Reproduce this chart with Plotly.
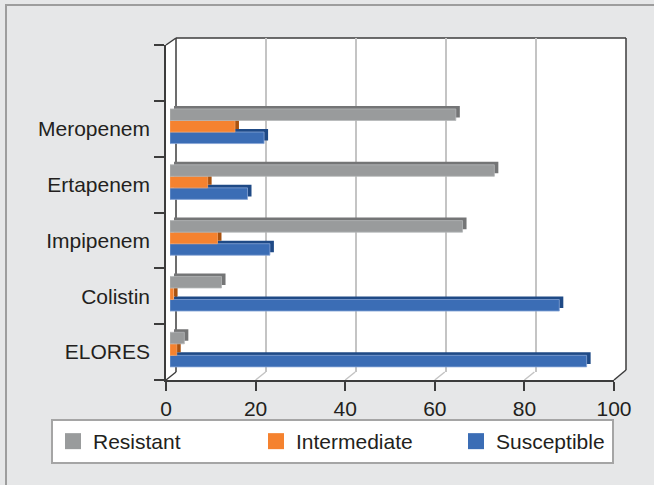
import plotly.graph_objects as go

# ---------------- data ----------------
categories = ["ELORES", "Colistin", "Impipenem", "Ertapenem", "Meropenem"]
resistant = [3.2, 11.5, 65.3, 72.4, 63.8]
intermediate = [1.5, 0.8, 10.6, 8.4, 14.5]
susceptible = [93.0, 86.9, 22.3, 17.3, 21.0]
series_names = ["Resistant", "Intermediate", "Susceptible"]
x_ticks = [0, 20, 40, 60, 80, 100]
grid_ticks = [20, 40, 60, 80]

values = {"Resistant": resistant, "Intermediate": intermediate, "Susceptible": susceptible}
front_col = {"Resistant": "#999b9c", "Intermediate": "#f5822f", "Susceptible": "#3b6db5"}
edge_col = {"Resistant": "#b4b6b7", "Intermediate": "#f7a264", "Susceptible": "#86a5d6"}
side_col = {"Resistant": "#747576", "Intermediate": "#a9520f", "Susceptible": "#1f4a86"}
draw_order = ["Susceptible", "Intermediate", "Resistant"]

W, H = 654, 485
FONT = "Liberation Sans, Arial, sans-serif"
TXT = "#231f20"
DARK = "#3c3c3c"


def fx(px):
    return px / W


def fy(px):
    return 1 - px / H


fig = go.Figure()

# back-wall grid holder
fig.add_trace(go.Scatter(x=[None], y=[None], xaxis="x", yaxis="y",
                         showlegend=False, hoverinfo="skip"))
# 3D depth faces (drawn first, shifted up/right)
for name in draw_order:
    fig.add_trace(go.Bar(y=categories, x=values[name], orientation="h",
                         xaxis="x2", yaxis="y2", marker_color=side_col[name],
                         marker_line_width=0, showlegend=False, hoverinfo="skip"))
# front faces
for name in draw_order:
    fig.add_trace(go.Bar(y=categories, x=values[name], orientation="h",
                         xaxis="x3", yaxis="y3", marker_color=front_col[name],
                         marker_line=dict(width=0.8, color=edge_col[name]),
                         name=name, showlegend=False))
# legend entries
legend_widths = {"Resistant": 158, "Intermediate": 155, "Susceptible": 111}
for i, name in enumerate(series_names):
    fig.add_trace(go.Scatter(x=[None], y=[None], mode="markers", name=name,
                             marker=dict(symbol="square", size=16, color=front_col[name]),
                             xaxis="x4", yaxis="y4", legendrank=i + 1,
                             legendwidth=legend_widths[name]))
# category holder for front axis
fig.add_trace(go.Scatter(x=[None] * 6, y=categories + [" "], mode="markers",
                         xaxis="x4", yaxis="y4", showlegend=False, hoverinfo="skip"))

shapes = []
# outer frame
shapes.append(dict(type="rect", xref="paper", yref="paper", x0=fx(6), x1=fx(W + 10),
                   y0=fy(H + 10), y1=fy(5), line=dict(color="#9d9d9d", width=2),
                   fillcolor="rgba(0,0,0,0)", layer="below"))
# white 3D box
pts = [(166, 45), (176, 38), (626, 38), (626, 370), (614, 380), (166, 380)]
path = "M " + " L ".join(f"{fx(a):.5f},{fy(b):.5f}" for a, b in pts) + " Z"
shapes.append(dict(type="path", xref="paper", yref="paper", path=path,
                   fillcolor="white", line=dict(width=0), layer="below"))
# floor grid diagonals
for v in grid_ticks:
    shapes.append(dict(type="line", xref="x4", xsizemode="pixel", xanchor=v,
                       x0=0, x1=10, yref="paper", y0=fy(380), y1=fy(372),
                       line=dict(color="#c4c4c4", width=1.5), layer="below"))
# dark box edges
edges = [((166, 45), (176, 38)), ((176, 38), (626, 38)), ((626, 38), (626, 370)),
         ((626, 370), (614, 380)), ((166, 380), (176, 372)), ((176, 38), (176, 372))]
for (a, b), (c, d) in edges:
    shapes.append(dict(type="line", xref="paper", yref="paper", x0=fx(a), y0=fy(b),
                       x1=fx(c), y1=fy(d), line=dict(color=DARK, width=1.5), layer="below"))

hidden = dict(visible=False, showgrid=False, zeroline=False)

fig.update_layout(
    width=W, height=H, autosize=False,
    margin=dict(l=0, r=0, t=0, b=0, pad=0),
    paper_bgcolor="#e6e7e8", plot_bgcolor="rgba(0,0,0,0)",
    barmode="group", bargap=0.38, bargroupgap=0,
    font=dict(family=FONT, size=21, color=TXT),
    shapes=shapes,
    showlegend=True,
    legend=dict(orientation="h", x=fx(51), xanchor="left", y=fy(419), yanchor="top",
                bgcolor="white", bordercolor="#a5a5a5", borderwidth=2,
                font=dict(family=FONT, size=21, color=TXT), itemwidth=30),
    xaxis=dict(domain=[fx(176), fx(626)], range=[0, 100], anchor="y",
               tickmode="array", tickvals=grid_ticks, showgrid=True,
               gridcolor="#c4c4c4", gridwidth=1.5, showticklabels=False,
               ticks="", zeroline=False, showline=False),
    yaxis=dict(domain=[fy(372), fy(38)], range=[0, 1], anchor="x", **hidden),
    xaxis2=dict(domain=[fx(174), fx(622)], range=[0, 100], anchor="y2", **hidden),
    yaxis2=dict(domain=[fy(374.5), fy(39.5)], range=[-0.5, 5.5], anchor="x2",
                type="category", categoryorder="array", categoryarray=categories, **hidden),
    xaxis3=dict(domain=[fx(170), fx(618)], range=[0, 100], anchor="y3", **hidden),
    yaxis3=dict(domain=[fy(377.5), fy(42.5)], range=[-0.5, 5.5], anchor="x3",
                type="category", categoryorder="array", categoryarray=categories, **hidden),
    xaxis4=dict(domain=[fx(166), fx(614)], range=[0, 100], anchor="y4",
                tickmode="array", tickvals=x_ticks, ticks="outside", ticklen=9,
                tickwidth=1.5, tickcolor=DARK, showline=True, linecolor=DARK,
                linewidth=1.5, showgrid=False, zeroline=False, automargin=False,
                tickfont=dict(family=FONT, size=21, color=TXT)),
    yaxis4=dict(domain=[fy(380), fy(45)], range=[-0.5, 5.5], anchor="x4",
                type="category", categoryorder="array", categoryarray=categories + [" "],
                ticks="outside", tickson="boundaries", ticklen=10, tickwidth=1.5,
                tickcolor=DARK, showline=True, linecolor=DARK, linewidth=1.5,
                showgrid=False, zeroline=False, ticklabelstandoff=10, automargin=False,
                tickfont=dict(family=FONT, size=21, color=TXT)),
)

fig.write_html("out.html", config={"displayModeBar": False},
               post_script="document.body.style.margin='0';document.body.style.overflow='hidden';")
